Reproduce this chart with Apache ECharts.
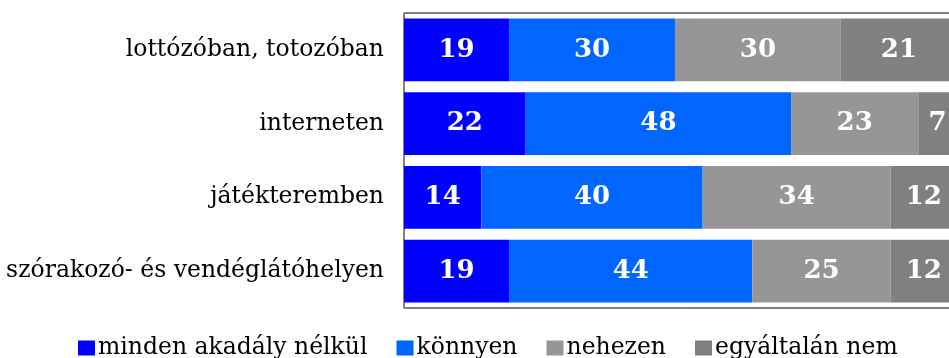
<!DOCTYPE html>
<html>
<head>
<meta charset="utf-8">
<style>
  html, body { margin: 0; padding: 0; background: #fff; overflow: hidden; }
  #chart { width: 957px; height: 358px; }
</style>
<script src="https://cdn.jsdelivr.net/npm/echarts@6/dist/echarts.min.js"></script>
</head>
<body>
<div id="chart"></div>
<script>
// Survey: how easily can one gamble at each venue (percent of respondents)
const categories = [
  'lottózóban, totozóban',
  'interneten',
  'játékteremben',
  'szórakozó- és vendéglátóhelyen'
];
const seriesNames = ['minden akadály nélkül', 'könnyen', 'nehezen', 'egyáltalán nem'];
const noObstacle = [19, 22, 14, 19];
const easily = [30, 48, 40, 44];
const hardly = [30, 23, 34, 25];
const notAtAll = [21, 7, 12, 12];
const seriesColors = ['#0000FF', '#0066FF', '#969696', '#808080'];

const values = [noObstacle, easily, hardly, notAtAll];
const serifFont = '"DejaVu Serif", "Liberation Serif", serif';

const chart = echarts.init(document.getElementById('chart'));
chart.setOption({
  animation: false,
  grid: {
    left: 404, right: 0, top: 13, height: 295,
    outerBoundsMode: 'none',
    containLabel: false,
    show: true, borderColor: '#000', borderWidth: 1, backgroundColor: 'transparent'
  },
  legend: {
    top: 336,
    left: 78,
    padding: 0,
    itemWidth: 17,
    itemHeight: 15,
    itemGap: 29,
    icon: 'rect',
    textStyle: { fontFamily: serifFont, fontSize: 23.5, color: '#000', padding: [0, 0, 0, -2] },
    data: seriesNames
  },
  xAxis: {
    type: 'value', min: 0, max: 100, show: false
  },
  yAxis: {
    type: 'category',
    data: categories,
    inverse: true,
    axisLine: { show: true, lineStyle: { color: '#808080', width: 1 } },
    axisTick: { show: false },
    axisLabel: { margin: 20, fontFamily: serifFont, fontSize: 23.5, color: '#000' }
  },
  series: seriesNames.map((name, i) => ({
    name: name,
    type: 'bar',
    stack: 'total',
    barCategoryGap: '15%',
    data: values[i],
    itemStyle: { color: seriesColors[i] },
    label: {
      show: true,
      position: 'inside',
      color: '#fff',
      fontFamily: serifFont,
      fontWeight: 'bold',
      fontSize: 26
    }
  }))
});
</script>
</body>
</html>
